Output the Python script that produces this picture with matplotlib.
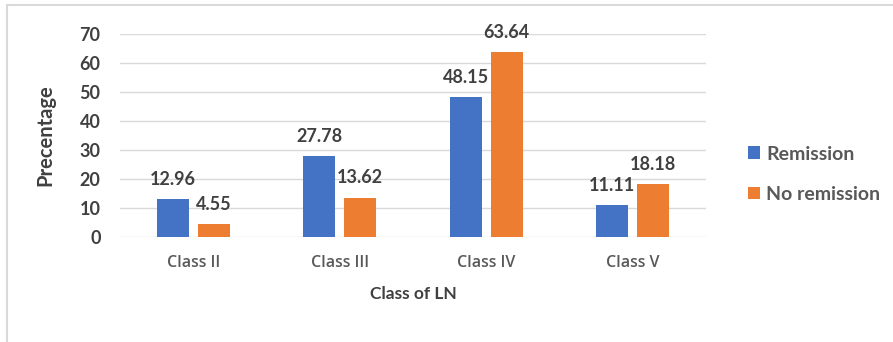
import matplotlib
matplotlib.use("Agg")
import matplotlib.pyplot as plt
import numpy as np
from matplotlib.patches import Rectangle

categories = ["Class II", "Class III", "Class IV", "Class V"]
remission = [12.96, 27.78, 48.15, 11.11]
no_remission = [4.55, 13.62, 63.64, 18.18]
series_names = ["Remission", "No remission"]
yticks = [0, 10, 20, 30, 40, 50, 60, 70]

plt.rcParams['font.family'] = ['Lato', 'DejaVu Sans']

W, H = 893, 342
fig = plt.figure(figsize=(W / 100, H / 100), dpi=100)
ax = fig.add_axes([120 / W, 1 - 237 / H, (706 - 120) / W, (237 - 34) / H])

x = np.arange(len(categories))
bw = 0.22
off = 0.14
c1, c2 = "#4472C4", "#ED7D31"
b1 = ax.bar(x - off, remission, bw, color=c1, label=series_names[0], zorder=3)
b2 = ax.bar(x + off, no_remission, bw, color=c2, label=series_names[1], zorder=3)

lab_col = "#404040"
for bars, vals in ((b1, remission), (b2, no_remission)):
    for r, v in zip(bars, vals):
        ax.annotate(f"{v:.2f}", (r.get_x() + r.get_width() / 2, v),
                    xytext=(0, 8), textcoords="offset points",
                    ha="center", va="bottom", fontsize=13, fontweight="bold",
                    color=lab_col)

ax.set_xlim(-0.5, len(categories) - 0.5)
ax.set_ylim(0, 70)
ax.set_yticks(yticks)
ax.set_yticklabels([str(t) for t in yticks], fontsize=13, fontweight="bold", color=lab_col)
ax.set_xticks(x)
ax.set_xticklabels(categories, fontsize=11.5, fontweight="semibold",
                   color="#595959", family=["Open Sans", "DejaVu Sans"])
ax.tick_params(axis="both", length=0)
ax.tick_params(axis="y", pad=14)
ax.tick_params(axis="x", pad=13)
ax.grid(axis="y", color="#D9D9D9", linewidth=1, zorder=0)
for s in ax.spines.values():
    s.set_visible(False)

ax.set_xlabel("Class of LN", fontsize=12.5, fontweight="bold", color=lab_col, labelpad=11)
ax.set_ylabel("Precentage", fontsize=14.5, fontweight="bold", color=lab_col)
ax.yaxis.set_label_coords((55 - 120) / (706 - 120), 0.5)

leg = fig.legend(handles=[b1, b2], labels=series_names, loc="upper left",
                 bbox_to_anchor=(730 / W, 1 - 128 / H), frameon=False,
                 prop={"size": 14, "weight": "bold"}, labelcolor="#595959",
                 handlelength=0.65, handleheight=0.65, handletextpad=0.3,
                 labelspacing=1.2)

fig.patches.append(Rectangle((7 / W, -0.1), 1.2, 1 - 5 / H + 0.1,
                             transform=fig.transFigure, fill=False,
                             edgecolor="#D9D9D9", linewidth=1.5))

fig.savefig("out.png", dpi=100)
